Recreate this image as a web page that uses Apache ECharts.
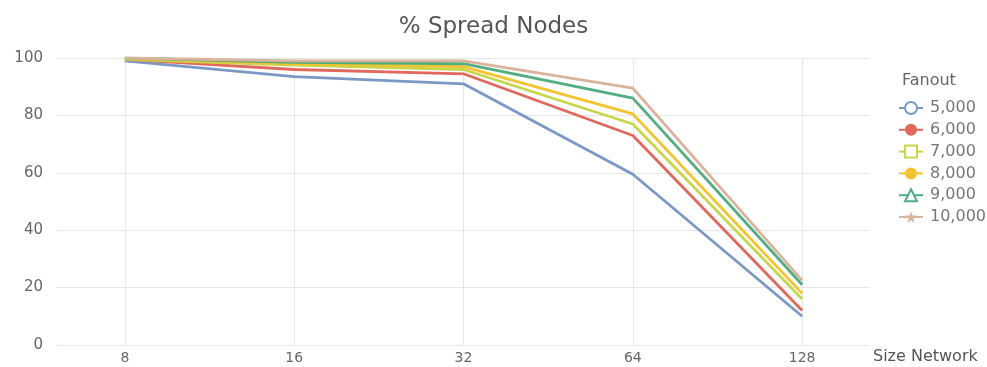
<!DOCTYPE html>
<html>
<head>
<meta charset="utf-8">
<script src="https://cdn.jsdelivr.net/npm/echarts@6/dist/echarts.min.js"></script>
<style>
  html, body { margin: 0; padding: 0; background: #fff; }
  #main { width: 987px; height: 367px; }
</style>
</head>
<body>
<div id="main"></div>
<script>
// network sizes (x axis, log2 spaced)
var sizes = [8, 16, 32, 64, 128];
var fanouts = ['5,000', '6,000', '7,000', '8,000', '9,000', '10,000'];
var yTicks = [0, 20, 40, 60, 80, 100];

var spread5000  = [99, 93.5, 91, 59.5, 10];
var spread6000  = [99.5, 96, 94.5, 73, 12];
var spread7000  = [99.5, 97.5, 96, 77, 16];
var spread8000  = [99.8, 98, 97, 80.5, 18];
var spread9000  = [100, 98.5, 98, 86, 21];
var spread10000 = [100, 99, 99, 89.5, 22.5];

var colors = ['#7c98c6', '#e0685c', '#c8d64c', '#f2c431', '#52ad80', '#d9b39b'];
var star = 'path://M50,0 L61,35 L98,35 L68,57 L79,91 L50,70 L21,91 L32,57 L2,35 L39,35 Z';
var symbols = ['emptyCircle', 'circle', 'emptyRect', 'circle', 'emptyTriangle', star];
var allData = [spread5000, spread6000, spread7000, spread8000, spread9000, spread10000];

var series = [];
for (var i = 0; i < fanouts.length; i++) {
  var pts = [];
  for (var j = 0; j < sizes.length; j++) pts.push([sizes[j], allData[i][j]]);
  series.push({
    name: fanouts[i],
    type: 'line',
    data: pts,
    symbol: symbols[i],
    symbolSize: 12,
    showSymbol: false,
    lineStyle: { width: 2.8 },
    itemStyle: { color: colors[i] }
  });
}

var myChart = echarts.init(document.getElementById('main'));
myChart.setOption({
  color: colors,
  animation: false,
  title: [
    { text: '% Spread Nodes', left: 'center', top: 11,
      textStyle: { fontFamily: 'DejaVu Sans', fontSize: 23, fontWeight: 'normal', color: '#555' } },
    { text: 'Fanout', left: 897, top: 68,
      textStyle: { fontFamily: 'DejaVu Sans', fontSize: 16, fontWeight: 'normal', color: '#666' } }
  ],
  legend: {
    orient: 'vertical',
    left: 893,
    top: 95,
    itemGap: 5.8,
    itemWidth: 24,
    itemHeight: 15,
    data: fanouts,
    textStyle: { fontFamily: 'DejaVu Sans', fontSize: 16, color: '#777', padding: [0, 0, 0, 2] }
  },
  grid: { left: 57, right: 117, top: 58, bottom: 22, containLabel: false },
  xAxis: {
    type: 'log',
    logBase: 2,
    min: 6.06,
    max: 169,
    name: 'Size Network',
    nameLocation: 'end',
    nameGap: 3,
    nameTextStyle: { fontFamily: 'DejaVu Sans', fontSize: 16, color: '#555', verticalAlign: 'top', padding: [4, 0, 0, 0] },
    axisLine: { show: false },
    axisTick: { show: false },
    axisLabel: { showMinLabel: false, showMaxLabel: false, fontFamily: 'DejaVu Sans', fontSize: 14, color: '#666', margin: 6 },
    splitLine: { show: true, showMinLine: false, showMaxLine: false, lineStyle: { color: '#e6e6e6' } }
  },
  yAxis: {
    type: 'value',
    min: yTicks[0],
    max: yTicks[yTicks.length - 1],
    interval: 20,
    axisLine: { show: false },
    axisTick: { show: false },
    axisLabel: { fontFamily: 'DejaVu Sans', fontSize: 15, color: '#666', margin: 14 },
    splitLine: { lineStyle: { color: '#e6e6e6' } }
  },
  series: series
});
</script>
</body>
</html>
